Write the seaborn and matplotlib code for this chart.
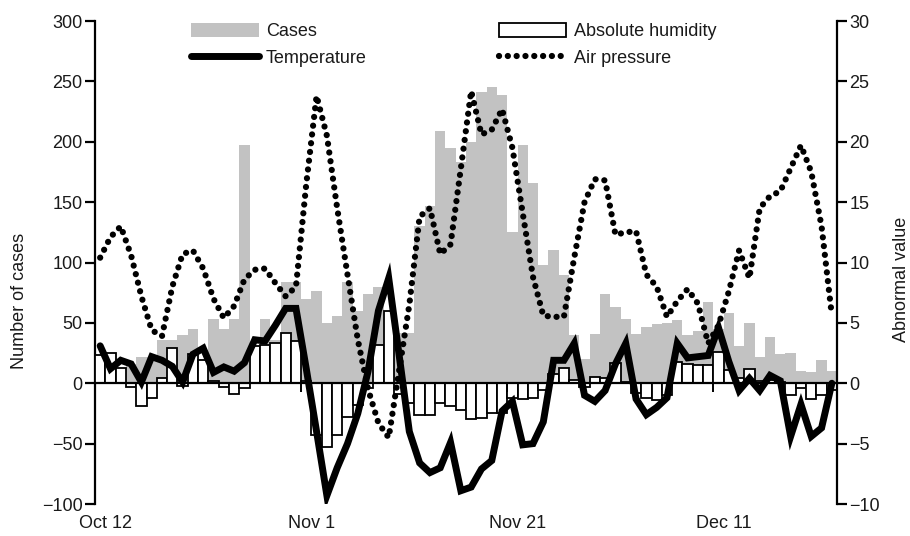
import matplotlib
matplotlib.use("Agg")
import matplotlib.pyplot as plt
import seaborn as sns
from matplotlib.patches import Patch
from matplotlib.lines import Line2D

# ---------------- data ----------------
days = list(range(72))  # day index, 0 = Oct 11
cases = [13, 12, 7, 16, 22, 22, 36, 36, 40, 45,
         20, 53, 45, 53, 197, 30, 53, 36, 84, 84,
         70, 76, 50, 56, 84, 60, 74, 80, 45, 42,
         42, 130, 147, 209, 195, 183, 200, 241, 245, 239,
         125, 197, 166, 98, 110, 90, 40, 20, 41, 74,
         63, 53, 41, 47, 49, 50, 52, 40, 43, 67,
         45, 58, 31, 50, 22, 38, 24, 25, 10, 9,
         19, 10]
humidity = [2.3, 2.5, 1.3, -0.3, -1.9, -1.2, 0.4, 2.9, -0.2, 2.4,
            1.9, 0.2, -0.3, -0.9, -0.4, 3.1, 3.2, 3.3, 4.2, 3.5,
            0.2, -4.3, -5.3, -4.3, -2.8, -1.8, -0.4, 3.2, 6.0, -0.9,
            -1.6, -2.6, -2.6, -1.6, -1.9, -2.2, -3.0, -2.9, -2.5, -2.5,
            -1.2, -1.3, -1.2, -0.6, 0.8, 1.3, 0.3, -0.3, 0.5, 0.4,
            1.7, 0.1, -0.8, -1.2, -1.4, -1.0, 1.8, 1.6, 1.5, 1.5,
            2.6, 1.1, 0.4, 1.2, 0.2, 0.3, 0.1, -1.0, -0.4, -1.3,
            -1.0, -0.6]
temperature = [3.1, 1.2, 1.9, 1.6, 0.1, 2.2, 1.9, 1.4, 0.1, 2.4,
               2.9, 0.9, 1.35, 1.0, 1.7, 3.6, 3.5, 4.8, 6.2, 6.2,
               1.2, -4.0, -9.3, -7.0, -5.0, -2.5, 1.0, 6.0, 8.7, 2.4,
               -4.0, -6.6, -7.4, -7.0, -4.9, -8.9, -8.6, -7.1, -6.4, -2.3,
               -1.5, -5.1, -5.0, -3.2, 1.9, 1.9, 3.3, -1.0, -1.5, -0.6,
               1.6, 3.3, -1.3, -2.6, -2.0, -1.2, 3.3, 2.1, 2.2, 2.3,
               4.6, 1.8, -0.6, 0.4, -0.6, 0.65, 0.2, -4.4, -1.75, -4.4,
               -3.7, 0.0]
pressure = [10.4, 12.1, 13.0, 10.6, 7.2, 4.4, 3.9, 8.0, 10.7, 11.0,
            9.5, 7.0, 5.4, 6.4, 8.6, 9.4, 9.5, 8.3, 7.2, 8.0,
            16.5, 23.8, 20.5, 14.5, 9.0, 3.6, -0.5, -3.3, -4.5, 1.0,
            6.5, 13.8, 14.5, 10.7, 11.5, 17.8, 24.2, 20.6, 21.0, 22.7,
            19.5, 14.1, 8.8, 5.6, 5.5, 5.5, 10.4, 15.0, 16.9, 16.8,
            12.3, 12.5, 12.6, 9.0, 8.0, 5.5, 6.8, 7.8, 6.6, 3.3,
            4.8, 7.6, 11.0, 8.7, 14.5, 15.5, 15.9, 17.8, 19.7, 17.5,
            13.0, 5.6]
tick_days = [1, 21, 41, 61]
tick_labels = ["Oct 12", "Nov 1", "Nov 21", "Dec 11"]
left_ticks = [-100, -50, 0, 50, 100, 150, 200, 250, 300]
right_ticks = [-10, -5, 0, 5, 10, 15, 20, 25, 30]

# ---------------- style ----------------
sns.set_theme(style="white")
plt.rcParams["font.family"] = ["Liberation Sans", "DejaVu Sans"]
FS = 13
TXT = "#1a1a1a"
GRAY = "#c2c2c2"

fig = plt.figure(figsize=(9.10, 5.36), dpi=100)
ax = fig.add_axes([0.1044, 0.0597, 0.8154, 0.9011])
ax2 = ax.twinx()

# cases bars (left axis)
sns.barplot(x=days, y=cases, ax=ax, native_scale=True, width=1.0,
            color=GRAY, saturation=1, errorbar=None, linewidth=0)

# humidity bars (right axis)
sns.barplot(x=days, y=humidity, ax=ax2, native_scale=True, width=1.0,
            color="white", saturation=1, errorbar=None,
            edgecolor="black", linewidth=1.3, zorder=2)
ax2.axhline(0, color="black", lw=1.6, zorder=3)

# temperature (thick solid)
TLW = 5.0
sns.lineplot(x=days, y=temperature, ax=ax2, color="black", linewidth=TLW,
             errorbar=None, solid_joinstyle="miter", zorder=5)
# air pressure (dotted)
DOT = (0, (0.01, 1.4))
PLW = 4.5
sns.lineplot(x=days, y=pressure, ax=ax2, color="black", linewidth=PLW,
             linestyle=DOT, dash_capstyle="round", errorbar=None, zorder=4)

# axes limits
ax.set_xlim(-0.5, 71.5)
ax2.set_xlim(-0.5, 71.5)
ax.set_ylim(-100, 300)
ax2.set_ylim(-10, 30)

# x tick marks on the zero line
ax2.vlines([d - 1.5 for d in tick_days], -0.75, 0, color="black", lw=1.4, zorder=3)
ax.set_xticks([d - 0.5 for d in tick_days])
ax.set_xticklabels(tick_labels, fontsize=FS, color=TXT)
ax.tick_params(axis="x", length=0, pad=8)

ax.set_yticks(left_ticks)
ax.set_yticklabels([str(t).replace("-", "\u2212") for t in left_ticks], fontsize=FS, color=TXT)
ax2.set_yticks(right_ticks)
ax2.set_yticklabels([str(t).replace("-", "\u2212") for t in right_ticks], fontsize=FS, color=TXT)
ax.tick_params(axis="y", direction="out", length=7, width=1.6, color="black", pad=2, left=True)
ax2.tick_params(axis="y", direction="out", length=7, width=1.6, color="black", pad=2, right=True)

for a in (ax, ax2):
    for s in ("top", "bottom"):
        a.spines[s].set_visible(False)
ax.spines["left"].set_visible(True)
ax.spines["left"].set_color("black")
ax.spines["left"].set_linewidth(1.6)
ax.spines["right"].set_visible(False)
ax2.spines["left"].set_visible(False)
ax2.spines["right"].set_visible(True)
ax2.spines["right"].set_color("black")
ax2.spines["right"].set_linewidth(1.6)
ax.grid(False)
ax2.grid(False)

ax.set_ylabel("Number of cases", fontsize=FS, color=TXT)
ax.yaxis.set_label_coords(-0.09, 0.42)
ax2.set_ylabel("Abnormal value", fontsize=FS, color=TXT)
ax2.yaxis.set_label_coords(1.076, 0.466)

handles = [Patch(facecolor=GRAY, edgecolor="none", label="Cases"),
           Line2D([], [], color="black", lw=TLW, label="Temperature"),
           Patch(facecolor="white", edgecolor="black", lw=1.3, label="Absolute humidity"),
           Line2D([], [], color="black", lw=PLW, linestyle=DOT, dash_capstyle="round",
                  label="Air pressure")]
leg = fig.legend(handles=handles, ncol=2, loc="upper left",
                 bbox_to_anchor=(0.192, 0.988), frameon=False, fontsize=FS,
                 handlelength=3.75, handleheight=0.85, handletextpad=0.4,
                 columnspacing=7.3, labelspacing=0.5)
for t in leg.get_texts():
    t.set_color(TXT)

fig.savefig("out.png", dpi=100)
